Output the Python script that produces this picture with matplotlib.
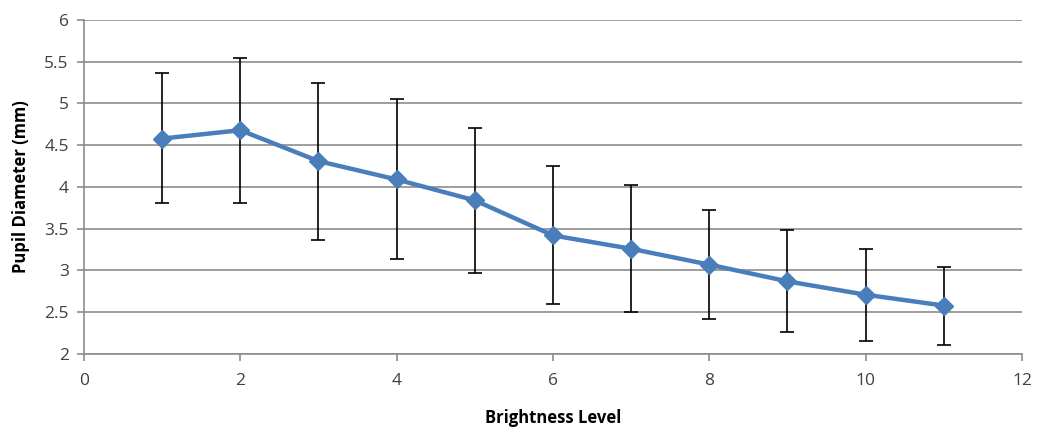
import numpy as np
import matplotlib
matplotlib.use("Agg")
import matplotlib.pyplot as plt

# ------ data ------
brightness = [1, 2, 3, 4, 5, 6, 7, 8, 9, 10, 11]
pupil_mean = [4.58, 4.68, 4.31, 4.09, 3.84, 3.42, 3.26, 3.07, 2.87, 2.71, 2.58]
err_top = [5.37, 5.55, 5.25, 5.05, 4.71, 4.25, 4.02, 3.72, 3.48, 3.26, 3.04]
err_bottom = [3.81, 3.81, 3.36, 3.14, 2.97, 2.60, 2.50, 2.42, 2.26, 2.16, 2.11]

x_ticks = [0, 2, 4, 6, 8, 10, 12]
y_ticks = [2, 2.5, 3, 3.5, 4, 4.5, 5, 5.5, 6]
y_tick_labels = ["2", "2.5", "3", "3.5", "4", "4.5", "5", "5.5", "6"]

plt.rcParams["font.family"] = ["Open Sans", "DejaVu Sans"]

fig = plt.figure(figsize=(10.42, 4.28), dpi=100)
ax = fig.add_axes([0.0806, 0.1729, 0.9002, 0.7804])

mean = np.array(pupil_mean)
yerr = [mean - np.array(err_bottom), np.array(err_top) - mean]

ax.errorbar(brightness, pupil_mean, yerr=yerr, fmt="none", ecolor="black",
            elinewidth=1.2, capsize=5, capthick=1.2, zorder=2)
ax.plot(brightness, pupil_mean, color="#4A7EBB", lw=3.2, marker="D",
        ms=9, markeredgecolor="#4A7EBB", zorder=3)

ax.set_xlim(0, 12)
ax.set_ylim(2, 6)
ax.set_xticks(x_ticks)
ax.set_yticks(y_ticks)
ax.set_yticklabels(y_tick_labels)

ax.grid(True, axis="y", color="#8c8c8c", lw=1.2)
ax.set_axisbelow(True)
for side in ("top", "right"):
    ax.spines[side].set_visible(False)
for side in ("left", "bottom"):
    ax.spines[side].set_color("#8c8c8c")
    ax.spines[side].set_linewidth(1.2)

ax.tick_params(axis="both", colors="#8c8c8c", length=5, width=1.2,
               labelsize=12.5, labelcolor="#404040")
ax.tick_params(axis="x", pad=9)
ax.tick_params(axis="y", pad=6)

ax.set_xlabel("Brightness Level", fontsize=12, fontweight="bold", labelpad=14)
ax.set_ylabel("Pupil Diameter (mm)", fontsize=12, fontweight="bold", labelpad=10)

fig.savefig("out.png", dpi=100)
